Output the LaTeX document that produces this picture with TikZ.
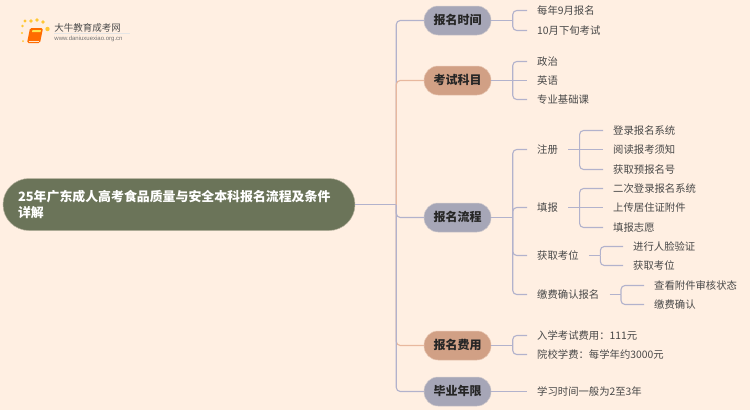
\documentclass[tikz,border=0pt]{standalone}
\usepackage{fontspec}
\setmainfont{Noto Sans CJK SC}
\newfontfamily\logofont{Liberation Sans}
\usepackage{xcolor}
\usetikzlibrary{positioning, calc}
\definecolor{pagecolor}{RGB}{255,239,226}
\definecolor{rootcolor}{RGB}{107,116,89}
\definecolor{greycolor}{RGB}{166,166,183}
\definecolor{tancolor}{RGB}{209,160,133}
\definecolor{linecolor}{RGB}{178,178,204}
\definecolor{warmline}{RGB}{232,184,158}
\definecolor{leafcolor}{RGB}{72,72,72}

\begin{document}
\begin{tikzpicture}[
    x=1pt, y=-1pt,
    topic/.style={draw=#1!50!pagecolor, line width=0.5pt, fill=#1, rounded corners=14pt, minimum width=67pt, minimum height=29pt, inner sep=0pt, text height=10pt, text depth=1.5pt, font=\fontsize{12}{14}\selectfont\bfseries, text=black!85},
    leaf/.style={anchor=west, inner xsep=10pt, inner ysep=0pt, text height=9pt, text depth=1pt, font=\fontsize{10.35}{13}\selectfont, text=leafcolor},
    link/.style={draw=linecolor, line width=1.1pt, rounded corners=4pt},
    warmlink/.style={draw=warmline, line width=1.1pt, rounded corners=4pt}
]
    \useasboundingbox (0,0) rectangle (750,410);
    \fill[pagecolor] (0,0) rectangle (750,410);

    % Logo
    \foreach \px/\py/\pr in {22/33/1.2, 22.5/26/1.4, 25/21/1.6, 31/21/1.8, 37/20/1.9, 43/22/1.9, 47.5/29/2.2, 23/41/1}
        \fill[orange!55!yellow!80!white] (\px,\py) circle (\pr);
    \fill[orange!85!red, rounded corners=1.5pt] (30,28) -- (43,28) -- (40,43) -- (27,43) -- cycle;
    \fill[orange!30!yellow!70!white] (32.5,30) -- (41,30) -- (40.5,32) -- (32,32) -- cycle;
    \draw[white!80!orange, line width=0.5pt] (28.5,41) -- (38.5,41);
    \node[inner sep=0pt, font=\fontsize{9.5}{11}\selectfont, text=black!70] (logotext) at (87.5,27.5) {大牛教育成考网};
    \node[inner sep=0pt, font=\logofont\fontsize{6}{7}\selectfont, text=black!55] (logourl) at (88.5,39) {www.daniuxuexiao.org.cn};
    \draw[black!10, line width=0.6pt] (54,33.5) -- (130,33.5);

    % Root
    \node[draw=rootcolor!50!pagecolor, line width=0.5pt, fill=rootcolor, rounded corners=26pt, minimum width=352pt, minimum height=52pt, inner xsep=15pt, inner ysep=0pt, align=left, text width=322pt, text=white, font=\fontsize{12.9}{15.5}\selectfont\bfseries] (root) at (179,204.5) {25年广东成人高考食品质量与安全本科报名流程及条件\\详解};

    % Topics
    \node[topic=greycolor] (time) at (457.5,20.5) {报名时间};
    \node[topic=tancolor] (subject) at (457.5,80.5) {考试科目};
    \node[topic=greycolor] (process) at (457.5,217.5) {报名流程};
    \node[topic=tancolor] (fee) at (457.5,345.5) {报名费用};
    \node[topic=greycolor] (years) at (457.5,391.5) {毕业年限};

    % Leaves of the first two topics
    \node[leaf] (time1) at (527,10.5) {每年9月报名};
    \node[leaf] (time2) at (527,30.5) {10月下旬考试};
    \node[leaf] (subject1) at (527,61.5) {政治};
    \node[leaf] (subject2) at (527,80.5) {英语};
    \node[leaf] (subject3) at (527,99.5) {专业基础课};

    % Process steps
    \node[leaf] (signup) at (527,149.5) {注册};
    \node[leaf] (fill) at (527,207.5) {填报};
    \node[leaf] (seat) at (527,255.5) {获取考位};
    \node[leaf] (pay) at (527,294.5) {缴费确认报名};
    \node[leaf] (signup1) at (603,130.5) {登录报名系统};
    \node[leaf] (signup2) at (603,149.5) {阅读报考须知};
    \node[leaf] (signup3) at (603,169.5) {获取预报名号};
    \node[leaf] (fill1) at (603,188.5) {二次登录报名系统};
    \node[leaf] (fill2) at (603,207.5) {上传居住证附件};
    \node[leaf] (fill3) at (603,227.5) {填报志愿};
    \node[leaf] (seat1) at (623,246.5) {进行人脸验证};
    \node[leaf] (seat2) at (623,265.5) {获取考位};
    \node[leaf] (pay1) at (644,285.5) {查看附件审核状态};
    \node[leaf] (pay2) at (644,304.5) {缴费确认};

    % Fee and years
    \node[leaf] (fee1) at (527,335.5) {入学考试费用：111元};
    \node[leaf] (fee2) at (527,354.5) {院校学费：每学年约3000元};
    \node[leaf] (years1) at (527,391.5) {学习时间一般为2至3年};

    % Fork points
    \coordinate (trunk) at ($(root.east)+(41,0)$);
    \foreach \parentname in {time,subject,process,fee}
        \coordinate (\parentname bus) at ($(\parentname.east)+(21.5,0)$);
    \foreach \parentname in {signup,fill,seat,pay}
        \coordinate (\parentname bus) at ($(\parentname.east)+(11.5,0)$);

    % Branches from the root, the warm one last covers the upper trunk
    \draw[warmlink] (trunk) |- (fee.west);
    \draw[link] (root.east) -- (trunk);
    \draw[link] (trunk) |- (time.west);
    \draw[link] (trunk) |- (process.west);
    \draw[link] (trunk) |- (years.west);
    \draw[warmlink] (trunk) |- (subject.west);

    % Topic to leaf
    \foreach \parentname in {time,process,fee}
        \draw[link] (\parentname.east) -- (\parentname bus);
    \foreach \leafname in {time1,time2}
        \draw[link] (timebus) |- (\leafname.west);
    \foreach \leafname in {subject1,subject3}
        \draw[link] (subjectbus) |- (\leafname.west);
    \draw[link] (subject.east) -- (subject2.west);
    \foreach \leafname in {signup,fill,seat,pay}
        \draw[link] (processbus) |- (\leafname.west);
    \foreach \leafname in {fee1,fee2}
        \draw[link] (feebus) |- (\leafname.west);
    \draw[link] (years.east) -- (years1.west);

    % Step to detail
    \foreach \parentname in {seat,pay}
        \draw[link] (\parentname.east) -- (\parentname bus);
    \foreach \leafname in {signup1,signup3}
        \draw[link] (signupbus) |- (\leafname.west);
    \draw[link] (signup.east) -- (signup2.west);
    \foreach \leafname in {fill1,fill3}
        \draw[link] (fillbus) |- (\leafname.west);
    \draw[link] (fill.east) -- (fill2.west);
    \foreach \leafname in {seat1,seat2}
        \draw[link] (seatbus) |- (\leafname.west);
    \foreach \leafname in {pay1,pay2}
        \draw[link] (paybus) |- (\leafname.west);
\end{tikzpicture}
\end{document}
